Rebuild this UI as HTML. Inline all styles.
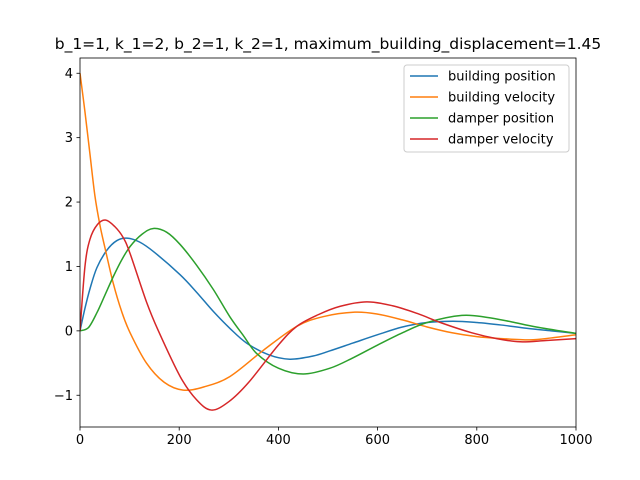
<!DOCTYPE html>
<html><head><meta charset="utf-8"><style>
body{margin:0;background:#fff}
svg{display:block;font-family:"DejaVu Sans","Liberation Sans",sans-serif}
</style></head><body>
<svg id="chart" width="640" height="480">
<rect width="640" height="480" fill="#fff"/>
<text x="328" y="49" font-size="15.5" text-anchor="middle">b_1=1, k_1=2, b_2=1, k_2=1, maximum_building_displacement=1.45</text>
<g id="plot"></g>
</svg>
<script>
const xBP=[0,10,20,34,54,74,94,120,150,202,235,269,302,336,380,423,470,504,550,600,650,700,752,800,850,900,950,1000];
const yBP=[0,0.35,0.65,0.98,1.25,1.4,1.44,1.38,1.22,0.87,0.6,0.3,0.04,-0.19,-0.37,-0.44,-0.39,-0.31,-0.19,-0.06,0.06,0.13,0.15,0.13,0.09,0.04,0,-0.04];
const xBV=[0,10,20,30,40,50,67,84,101,134,170,208,250,302,370,437,490,554,600,650,700,750,800,850,907,950,1000];
const yBV=[4.0,3.4,2.75,2.1,1.65,1.3,0.74,0.3,-0.03,-0.5,-0.8,-0.92,-0.87,-0.71,-0.3,0.07,0.22,0.29,0.26,0.17,0.06,-0.03,-0.09,-0.12,-0.14,-0.11,-0.06];
const xDP=[0,17,34,50,67,84,101,125,148,175,202,235,269,302,330,356,400,450,504,550,600,650,700,770,820,870,920,1000];
const yDP=[0,0.05,0.28,0.55,0.84,1.1,1.31,1.5,1.59,1.53,1.34,1.02,0.64,0.22,-0.08,-0.35,-0.58,-0.67,-0.58,-0.42,-0.22,-0.03,0.13,0.24,0.21,0.14,0.06,-0.04];
const xDV=[0,10,20,35,52,70,87,101,134,158,202,235,265,300,340,400,437,480,524,578,630,680,730,790,840,887,940,1000];
const yDV=[0,1.0,1.42,1.65,1.72,1.62,1.45,1.2,0.45,0,-0.71,-1.07,-1.23,-1.1,-0.8,-0.22,0.07,0.25,0.38,0.45,0.39,0.27,0.12,-0.03,-0.12,-0.17,-0.15,-0.12];
const seriesNames=["building position","building velocity","damper position","damper velocity"];
const colors=["#1f77b4","#ff7f0e","#2ca02c","#d62728"];
const xTicks=[0,200,400,600,800,1000];
const yTicks=[-1,0,1,2,3,4];
const L=80,R=576,T=58,B=427,xMin=0,xMax=1000,yMin=-1.493,yMax=4.237;
const sx=v=>L+(v-xMin)/(xMax-xMin)*(R-L);
const sy=v=>B-(v-yMin)/(yMax-yMin)*(B-T);
const NS="http://www.w3.org/2000/svg";
const g=document.getElementById('plot');
function mk(t,a,p){const e=document.createElementNS(NS,t);for(const k in a)e.setAttribute(k,a[k]);(p||g).appendChild(e);return e;}
function path(xs,ys){const p=xs.map((x,i)=>[sx(x),sy(ys[i])]);let d=`M${p[0][0]},${p[0][1]}`;
for(let i=0;i<p.length-1;i++){const p0=p[Math.max(i-1,0)],p1=p[i],p2=p[i+1],p3=p[Math.min(i+2,p.length-1)];
d+=` C${p1[0]+(p2[0]-p0[0])/6},${p1[1]+(p2[1]-p0[1])/6} ${p2[0]-(p3[0]-p1[0])/6},${p2[1]-(p3[1]-p1[1])/6} ${p2[0]},${p2[1]}`;}return d;}
const data=[[xBP,yBP],[xBV,yBV],[xDP,yDP],[xDV,yDV]];
const clip=mk('clipPath',{id:'c'});mk('rect',{x:L,y:T,width:R-L,height:B-T},clip);
data.forEach((s,i)=>{const e=mk('path',{d:path(s[0],s[1]),fill:'none',stroke:colors[i],'stroke-width':1.5,'clip-path':'url(#c)'});

});
const fr=mk('rect',{x:L,y:T,width:R-L,height:B-T,fill:'none',stroke:'#000','stroke-width':0.8});


xTicks.forEach(v=>{const x=sx(v);mk('line',{x1:x,x2:x,y1:B,y2:B+3.5,stroke:'#000','stroke-width':0.8});
const t=mk('text',{x:x,y:B+17,'font-size':13,'text-anchor':'middle'});t.textContent=v;

});
yTicks.forEach(v=>{const y=sy(v);mk('line',{x1:L-3.5,x2:L,y1:y,y2:y,stroke:'#000','stroke-width':0.8});
const t=mk('text',{x:L-7,y:y+4.5,'font-size':13,'text-anchor':'end'});t.textContent=v<0?'\u2212'+(-v):v;

});
const lg=mk('g',{});


mk('rect',{x:404,y:65,width:165,height:87,rx:3,fill:'#fff',stroke:'#ccc','stroke-width':1},lg);
seriesNames.forEach((n,i)=>{const y=76+i*21;
mk('line',{x1:410,x2:438,y1:y,y2:y,stroke:colors[i],'stroke-width':1.5},lg);
const t=mk('text',{x:448,y:y+4.5,'font-size':13},lg);t.textContent=n;

});
</script>
</body></html>
